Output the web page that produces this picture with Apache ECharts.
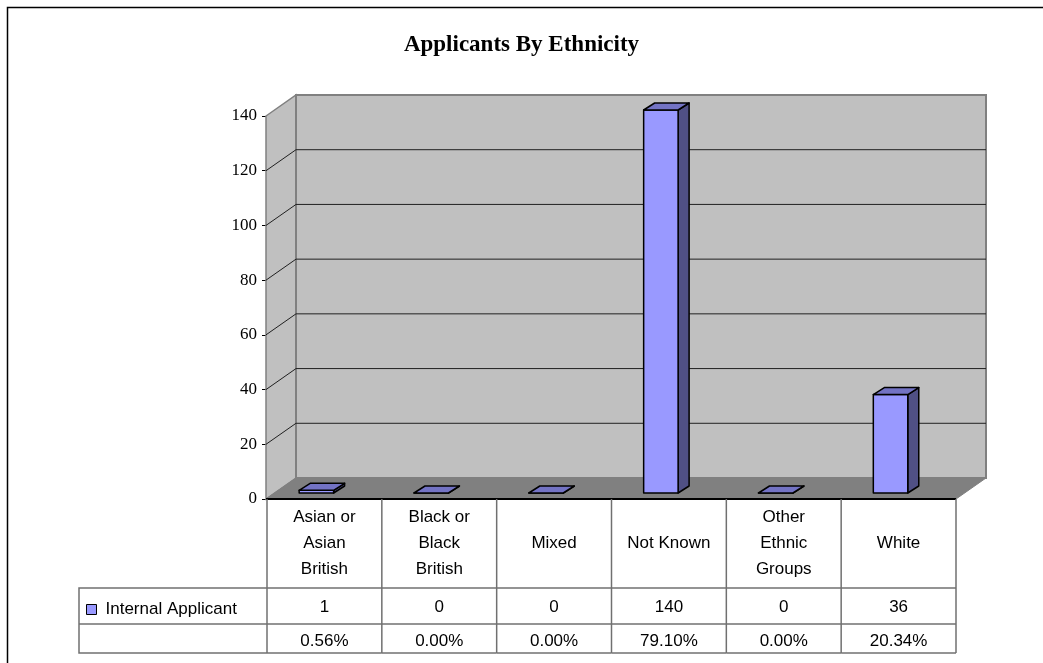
<!DOCTYPE html>
<html>
<head>
<meta charset="utf-8">
<title>Applicants By Ethnicity</title>
<script src="https://cdn.jsdelivr.net/npm/echarts@6/dist/echarts.min.js"></script>
<style>
  html, body { margin: 0; padding: 0; background: #ffffff; }
  #chart { width: 1043px; height: 663px; }
</style>
</head>
<body>
<div id="chart"></div>
<script>
// Applicants by ethnicity, with a data table under the category axis
const categories = ['Asian or\nAsian\nBritish', 'Black or\nBlack\nBritish', 'Mixed', 'Not Known', 'Other\nEthnic\nGroups', 'White'];
const applicants = [1, 0, 0, 140, 0, 36];
const shares = ['0.56%', '0.00%', '0.00%', '79.10%', '0.00%', '20.34%'];
const yTicks = [0, 20, 40, 60, 80, 100, 120, 140];
const seriesName = 'Internal Applicant';
const chartTitle = 'Applicants By Ethnicity';

// 3-D look: offset of the back wall and of the bars' front faces
const WALL_DX = 30, WALL_DY = -21;
const BAR_DX = 11, BAR_DY = -7;
const BAR_SHIFT_Y = -6;
// data table row heights
const ROW_CAT = 89, ROW_VAL = 36, ROW_PCT = 29;
const LEGEND_CELL_W = 188;

const FONT_SANS = '"Liberation Sans", Arial, sans-serif';
const FONT_SERIF = '"Liberation Serif", "Times New Roman", serif';
const TABLE_LINE = '#707070';

const yMax = yTicks[yTicks.length - 1];

function plotBox(api) {
  const band = api.size([1, 0])[0];
  const base0 = api.coord([0, 0]);
  const baseN = api.coord([categories.length - 1, 0]);
  const top = api.coord([0, yMax]);
  return { band: band, x0: base0[0] - band / 2, x1: baseN[0] + band / 2, yb: base0[1], yt: top[1] };
}

// walls, floor and gridlines
function renderFrame(params, api) {
  const b = plotBox(api);
  const children = [];
  // side wall
  children.push({ type: 'polygon', shape: { points: [[b.x0 - 1, b.yt], [b.x0 - 1 + WALL_DX, b.yt + WALL_DY], [b.x0 - 1 + WALL_DX, b.yb + WALL_DY], [b.x0 - 1, b.yb]] },
    style: { fill: '#c0c0c0', stroke: '#808080', lineWidth: 1.5 } });
  // back wall
  children.push({ type: 'rect', shape: { x: b.x0 - 1 + WALL_DX, y: b.yt + WALL_DY, width: b.x1 - b.x0 + 1, height: b.yb - b.yt } ,
    style: { fill: '#c0c0c0', stroke: '#808080', lineWidth: 2 } });
  // gridlines across the side and back walls
  yTicks.forEach(function (t) {
    if (t === 0 || t === yMax) return;
    const y = api.coord([0, t])[1];
    children.push({ type: 'polyline', shape: { points: [[b.x0 - 1, y], [b.x0 - 1 + WALL_DX, y + WALL_DY], [b.x1 + WALL_DX, y + WALL_DY]] },
      style: { fill: null, stroke: '#202020', lineWidth: 1 } });
  });
  // floor
  children.push({ type: 'polygon', shape: { points: [[b.x0 - 1, b.yb], [b.x0 - 1 + WALL_DX, b.yb + WALL_DY], [b.x1 + WALL_DX, b.yb + WALL_DY], [b.x1, b.yb]] },
    style: { fill: '#808080', stroke: '#808080', lineWidth: 1 } });
  // front edge of the floor
  children.push({ type: 'line', shape: { x1: b.x0 - 1, y1: b.yb, x2: b.x1, y2: b.yb }, style: { stroke: '#000', lineWidth: 2 } });
  return { type: 'group', children: children };
}

// one 3-D column per category
function renderBar(params, api) {
  const i = api.value(0);
  const v = api.value(1);
  const band = api.size([1, 0])[0];
  const base = api.coord([i, 0]);
  const top = api.coord([i, v]);
  const w = band * 0.3;
  const left = base[0] - band * 0.07 - w / 2;
  const yB = base[1] + BAR_SHIFT_Y;
  const yT = top[1] + BAR_SHIFT_Y;
  const stroke = { stroke: '#000', lineWidth: 1.5, lineJoin: 'round' };
  return {
    type: 'group',
    children: [
      { type: 'polygon', shape: { points: [[left + w, yT], [left + w + BAR_DX, yT + BAR_DY], [left + w + BAR_DX, yB + BAR_DY], [left + w, yB]] },
        style: Object.assign({ fill: '#505085' }, stroke) },
      { type: 'rect', shape: { x: left, y: yT, width: w, height: yB - yT },
        style: Object.assign({ fill: '#9999ff' }, stroke) },
      { type: 'polygon', shape: { points: [[left, yT], [left + BAR_DX, yT + BAR_DY], [left + w + BAR_DX, yT + BAR_DY], [left + w, yT]] },
        style: Object.assign({ fill: '#7373c4' }, stroke) }
    ]
  };
}

// data table cells: value row and share row
function renderTable(params, api) {
  const i = api.value(0);
  const v = api.value(1);
  const band = api.size([1, 0])[0];
  const base = api.coord([i, 0]);
  const xl = base[0] - band / 2, xr = base[0] + band / 2;
  const y0 = base[1], y1 = y0 + ROW_CAT, y2 = y1 + ROW_VAL, y3 = y2 + ROW_PCT;
  const line = { stroke: TABLE_LINE, lineWidth: 1.5 };
  const children = [
    { type: 'line', shape: { x1: xr, y1: y0, x2: xr, y2: y3 }, style: line },
    { type: 'line', shape: { x1: xl, y1: y1, x2: xr, y2: y1 }, style: line },
    { type: 'line', shape: { x1: xl, y1: y2, x2: xr, y2: y2 }, style: line },
    { type: 'line', shape: { x1: xl, y1: y3, x2: xr, y2: y3 }, style: line },
    { type: 'text', style: { x: base[0], y: (y1 + y2) / 2 + 1, text: String(v), fill: '#000', font: '17px ' + FONT_SANS, textAlign: 'center', textVerticalAlign: 'middle' } },
    { type: 'text', style: { x: base[0], y: (y2 + y3) / 2 + 3, text: shares[i], fill: '#000', font: '17px ' + FONT_SANS, textAlign: 'center', textVerticalAlign: 'middle' } }
  ];
  if (i === 0) {
    const xa = xl - LEGEND_CELL_W;
    children.push(
      { type: 'line', shape: { x1: xl, y1: y0, x2: xl, y2: y3 }, style: line },
      { type: 'polyline', shape: { points: [[xl, y1], [xa, y1], [xa, y3], [xl, y3]] }, style: Object.assign({ fill: null }, line) },
      { type: 'line', shape: { x1: xa, y1: y2, x2: xl, y2: y2 }, style: line }
    );
  }
  return { type: 'group', children: children };
}

const chart = echarts.init(document.getElementById('chart'), null, { renderer: 'canvas' });
chart.setOption({
  animation: false,
  backgroundColor: '#ffffff',
  title: {
    text: chartTitle,
    left: 'center',
    top: 34,
    padding: 0,
    textStyle: { fontFamily: FONT_SERIF, fontWeight: 'bold', fontSize: 23, color: '#000' }
  },
  graphic: [
    { type: 'rect', shape: { x: 7.5, y: 7.5, width: 1100, height: 1000 }, style: { fill: null, stroke: '#000', lineWidth: 1.5 }, z: 100 }
  ],
  legend: {
    left: 86,
    top: 601,
    padding: 0,
    itemWidth: 10,
    itemHeight: 10,
    data: [{ name: seriesName, icon: 'rect', itemStyle: { color: '#9999ff', borderColor: '#000', borderWidth: 1 } }],
    textStyle: { fontFamily: FONT_SANS, fontSize: 17, color: '#000', padding: [0, 0, 0, 4] },
    selectedMode: false
  },
  grid: { left: 267, right: 87, top: 116, bottom: 164, containLabel: false },
  xAxis: {
    type: 'category',
    data: categories,
    axisLine: { show: false },
    axisTick: { show: false },
    axisLabel: {
      interval: 0,
      margin: 44,
      verticalAlign: 'middle',
      fontFamily: FONT_SANS,
      fontSize: 17,
      lineHeight: 26,
      color: '#000'
    }
  },
  yAxis: {
    type: 'value',
    min: 0,
    max: yMax,
    interval: 20,
    axisLine: { show: true, lineStyle: { color: '#000', width: 1 } },
    axisTick: { show: true, length: 5, lineStyle: { color: '#000' } },
    splitLine: { show: false },
    axisLabel: { margin: 10, fontFamily: FONT_SERIF, fontSize: 17, color: '#000' }
  },
  series: [
    { type: 'custom', name: 'frame', renderItem: renderFrame, data: [[0, 0]], clip: false, silent: true, z: 1 },
    { type: 'custom', name: seriesName, renderItem: renderBar, itemStyle: { color: '#9999ff' },
      data: applicants.map(function (v, i) { return [i, v]; }), clip: false, z: 3 },
    { type: 'custom', name: 'table', renderItem: renderTable, silent: true,
      data: applicants.map(function (v, i) { return [i, v]; }), clip: false, z: 4 }
  ]
});
</script>
</body>
</html>
